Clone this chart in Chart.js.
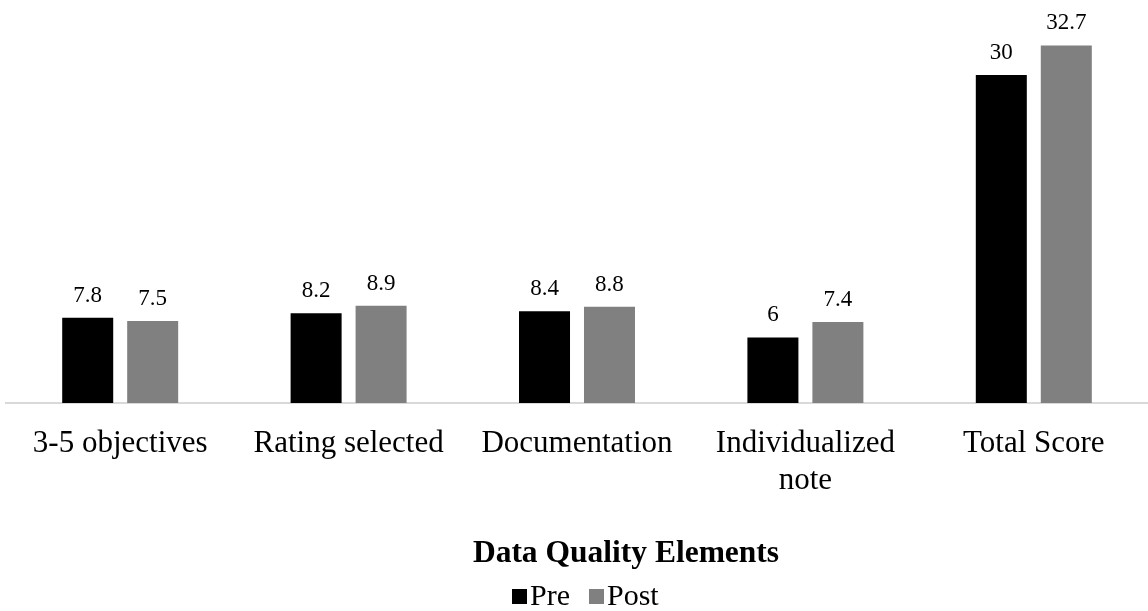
<!DOCTYPE html>
<html>
<head>
<meta charset="utf-8">
<script src="https://cdn.jsdelivr.net/npm/chart.js@4"></script>
<style>
html,body{margin:0;padding:0;background:#fff;}
#wrap{width:1148px;height:611px;position:relative;}
</style>
</head>
<body>
<div id="wrap"><canvas id="c" width="1148" height="611"></canvas></div>
<script>
const categories = ['3-5 objectives', 'Rating selected', 'Documentation', ['Individualized', 'note'], 'Total Score'];
const preValues = [7.8, 8.2, 8.4, 6, 30];
const postValues = [7.5, 8.9, 8.8, 7.4, 32.7];
const seriesNames = ['Pre', 'Post'];
const axisTitle = 'Data Quality Elements';

const SERIF = '"Liberation Serif", "Times New Roman", serif';

const valueLabels = {
  id: 'valueLabels',
  afterDatasetsDraw(chart) {
    const ctx = chart.ctx;
    ctx.save();
    ctx.font = '23px ' + SERIF;
    ctx.fillStyle = '#000';
    ctx.textAlign = 'center';
    ctx.textBaseline = 'alphabetic';
    chart.data.datasets.forEach((ds, i) => {
      const meta = chart.getDatasetMeta(i);
      meta.data.forEach((bar, j) => {
        ctx.fillText(String(ds.data[j]), bar.x, bar.y - 16);
      });
    });
    ctx.restore();
  }
};

const titleAndLegend = {
  id: 'titleAndLegend',
  afterDraw(chart) {
    const ctx = chart.ctx;
    ctx.save();
    ctx.fillStyle = '#000';
    ctx.textBaseline = 'alphabetic';
    ctx.textAlign = 'center';
    ctx.font = 'bold 31.5px ' + SERIF;
    ctx.fillText(axisTitle, 626, 562);
    // legend
    ctx.textAlign = 'left';
    ctx.font = '30px ' + SERIF;
    let x = 512;
    chart.data.datasets.forEach((ds, i) => {
      ctx.fillStyle = ds.backgroundColor;
      ctx.fillRect(x, 589, 15, 15);
      x += 15 + 3;
      ctx.fillStyle = '#000';
      ctx.fillText(ds.label, x, 605);
      x += ctx.measureText(ds.label).width + 19;
    });
    ctx.restore();
  }
};

new Chart(document.getElementById('c'), {
  type: 'bar',
  data: {
    labels: categories,
    datasets: [
      { label: seriesNames[0], data: preValues, backgroundColor: '#000000', categoryPercentage: 0.569, barPercentage: 0.785 },
      { label: seriesNames[1], data: postValues, backgroundColor: '#808080', categoryPercentage: 0.569, barPercentage: 0.785 }
    ]
  },
  options: {
    responsive: false,
    animation: false,
    layout: { padding: { left: 6, right: 0, top: 0, bottom: 0 } },
    plugins: {
      legend: { display: false },
      tooltip: { enabled: false }
    },
    scales: {
      x: {
        grid: { display: false, drawTicks: false },
        border: { display: true, color: '#d9d9d9', width: 2 },
        ticks: {
          color: '#000',
          font: { family: SERIF, size: 31, lineHeight: 1.2 },
          padding: 22,
          maxRotation: 0,
          autoSkip: false
        },
        afterFit(scale) { scale.height = 208; }
      },
      y: {
        display: false,
        min: 0,
        max: 36.86
      }
    }
  },
  plugins: [valueLabels, titleAndLegend]
});
</script>
</body>
</html>
